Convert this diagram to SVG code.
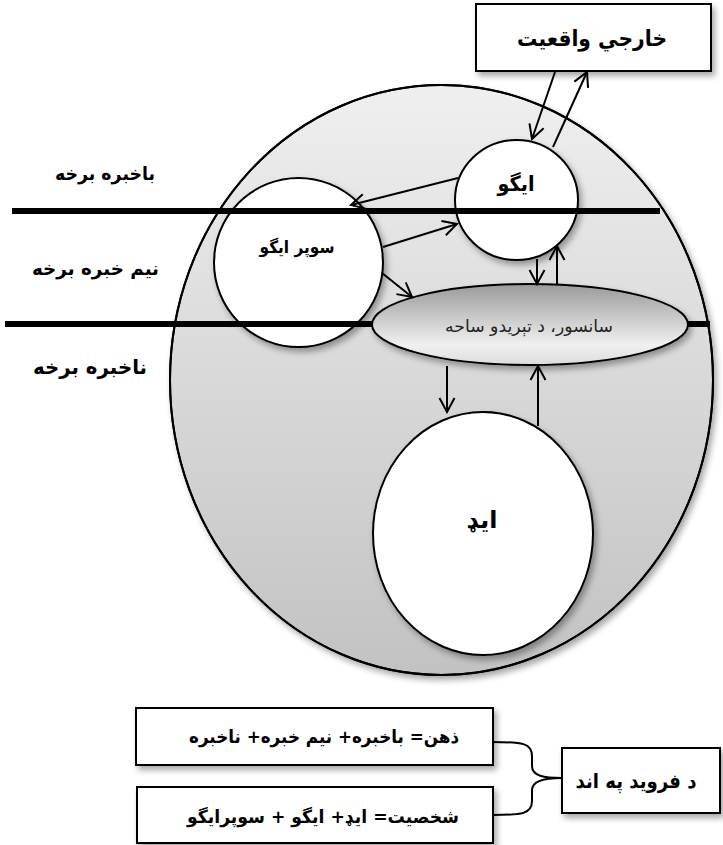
<svg xmlns="http://www.w3.org/2000/svg" width="723" height="845" viewBox="0 0 723 845">
<defs>
<linearGradient id="gBig" x1="0" y1="0" x2="0" y2="1">
<stop offset="0" stop-color="#efefef"/>
<stop offset="1" stop-color="#c2c2c2"/>
</linearGradient>
<linearGradient id="gCen" x1="0" y1="0" x2="0" y2="1">
<stop offset="0" stop-color="#9a9a9a"/>
<stop offset="0.75" stop-color="#f0f0f0"/>
<stop offset="1" stop-color="#dcdcdc"/>
</linearGradient>
<filter id="sh" x="-20%" y="-20%" width="140%" height="140%">
<feDropShadow dx="3" dy="4" stdDeviation="3" flood-color="#000" flood-opacity="0.35"/>
</filter>
<marker id="ah" markerUnits="userSpaceOnUse" markerWidth="18" markerHeight="18" viewBox="0 0 18 18" refX="16" refY="9" orient="auto">
<path d="M2,1.5 L16,9 L2,16.5" fill="none" stroke="#000" stroke-width="2"/>
</marker>
<style>
.node{stroke:#000;stroke-width:2}
.white{fill:#fff}
.bar{stroke:#000;stroke-width:6}
.lbl{font-family:"DejaVu Sans",sans-serif;font-weight:bold;fill:#000;text-anchor:middle}
.reg{font-family:"DejaVu Sans",sans-serif;font-weight:normal;fill:#222;text-anchor:middle}
.conn line,.conn path{stroke:#000;stroke-width:2;fill:none}
.box{fill:#fff;stroke:#000;stroke-width:2}
</style>
</defs>
<rect width="723" height="845" fill="#fff"/>

<g id="mind">
<ellipse cx="441.5" cy="380" rx="271.5" ry="295" fill="url(#gBig)" class="node" filter="url(#sh)"/>
</g>
<g id="superego">
<ellipse cx="298.5" cy="262.5" rx="84.5" ry="84.5" class="node white" filter="url(#sh)"/>
<text class="lbl" x="297" y="253" font-size="17" direction="rtl" textLength="75" lengthAdjust="spacingAndGlyphs">سوپر ایگو</text>
</g>
<g id="ego">
<ellipse cx="516.5" cy="200" rx="61.5" ry="60" class="node white" filter="url(#sh)"/>
<text class="lbl" x="516" y="191" font-size="21" direction="rtl" textLength="37" lengthAdjust="spacingAndGlyphs">ایگو</text>
</g>
<ellipse cx="441.5" cy="380" rx="271.5" ry="295" fill="none" stroke="#000" stroke-width="2"/>

<g id="levels">
<line class="bar" x1="12" y1="211" x2="660" y2="211"/>
<line class="bar" x1="5" y1="324" x2="710" y2="324"/>
<text class="lbl" x="105" y="180" font-size="19" direction="rtl" textLength="100" lengthAdjust="spacingAndGlyphs">باخبره برخه</text>
<text class="lbl" x="95.5" y="275" font-size="19" direction="rtl" textLength="127" lengthAdjust="spacingAndGlyphs">نیم خبره برخه</text>
<text class="lbl" x="90" y="374" font-size="20" direction="rtl" textLength="114" lengthAdjust="spacingAndGlyphs">ناخبره برخه</text>
</g>

<g id="censor">
<ellipse cx="530" cy="324.5" rx="158" ry="40.5" fill="url(#gCen)" class="node" filter="url(#sh)"/>
<text class="reg" x="529" y="332" font-size="17" direction="rtl" textLength="168" lengthAdjust="spacingAndGlyphs">سانسور، د تېریدو ساحه</text>
</g>

<g id="id">
<ellipse cx="483" cy="533.5" rx="110" ry="121.5" class="node white" filter="url(#sh)"/>
<text class="lbl" x="482" y="528" font-size="24" direction="rtl" textLength="31" lengthAdjust="spacingAndGlyphs">ایډ</text>
</g>

<g id="external">
<rect x="476" y="4" width="235" height="67" class="box" filter="url(#sh)"/>
<text class="lbl" x="592" y="46" font-size="22" direction="rtl" textLength="150" lengthAdjust="spacingAndGlyphs">خارجي واقعيت</text>
</g>

<g id="mindbox">
<rect x="136" y="708" width="357" height="57" class="box" filter="url(#sh)"/>
<text class="lbl" x="324" y="743" font-size="18" direction="rtl" textLength="270" lengthAdjust="spacingAndGlyphs">ذهن= باخبره+ نیم خبره+ ناخبره</text>
</g>
<g id="personalitybox">
<rect x="137" y="787" width="356" height="56" class="box" filter="url(#sh)"/>
<text class="lbl" x="323" y="823" font-size="18" direction="rtl" textLength="272" lengthAdjust="spacingAndGlyphs">شخصیت= ایډ+ ایگو + سوپرایگو</text>
</g>
<g id="freudbox">
<rect x="562" y="748" width="158" height="65" class="box" filter="url(#sh)"/>
<text class="lbl" x="636" y="788" font-size="20" direction="rtl" textLength="121" lengthAdjust="spacingAndGlyphs">د فروید په اند</text>
</g>

<g id="connectors" class="conn">
<line x1="458" y1="178" x2="351" y2="205" marker-end="url(#ah)"/>
<line x1="383" y1="247" x2="457" y2="224" marker-end="url(#ah)"/>
<line x1="382" y1="273" x2="412" y2="297" marker-end="url(#ah)"/>
<line x1="537" y1="259" x2="537" y2="284" marker-end="url(#ah)"/>
<line x1="557" y1="284" x2="557" y2="246" marker-end="url(#ah)"/>
<line x1="447" y1="366" x2="447" y2="412" marker-end="url(#ah)"/>
<line x1="538" y1="426" x2="538" y2="366" marker-end="url(#ah)"/>
<line x1="555" y1="72" x2="532" y2="139" marker-end="url(#ah)"/>
<line x1="553" y1="147" x2="587" y2="72" marker-end="url(#ah)"/>
<path d="M493,742 C522,742 532,743 532,756 L532,766 C532,776 544,778 562,778" stroke-width="2.5"/>
<path d="M493,815 C522,815 532,814 532,801 L532,790 C532,781 544,778 562,778" stroke-width="2.5"/>
</g>
</svg>
